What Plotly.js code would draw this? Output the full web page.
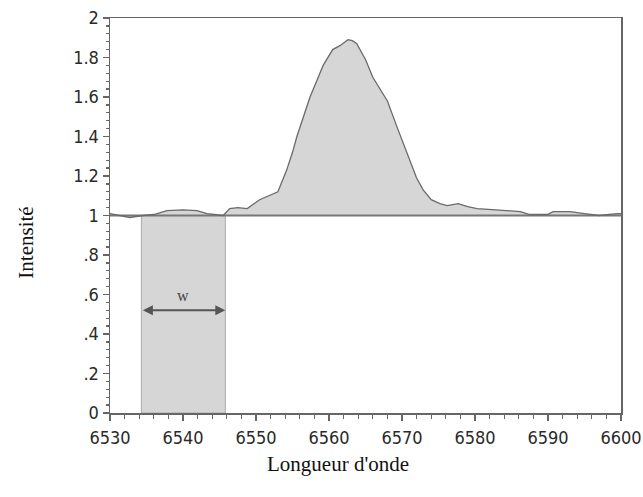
<!DOCTYPE html>
<html>
<head>
<meta charset="utf-8">
<script src="https://cdn.plot.ly/plotly-3.0.1.min.js"></script>
<style>html,body{margin:0;padding:0;background:#fff;}#chart{width:643px;height:497px;}</style>
</head>
<body>
<div id="chart"></div>
<script>
// Spectrum (wavelength in Å, normalised intensity)
const wavelength = [6530, 6531.5, 6532.7, 6534.5, 6536, 6537.8, 6540, 6541.9, 6543.3, 6545.5, 6546.4, 6547.5, 6548.8, 6550.5, 6551.5, 6553, 6554.2, 6555, 6555.6, 6556.5, 6557.4, 6558.3, 6559.2, 6560.5, 6561.5, 6562.6, 6563.2, 6563.8, 6565, 6566, 6567, 6568, 6569.3, 6570.2, 6571.1, 6572, 6572.9, 6574, 6575.2, 6576.2, 6577.7, 6579, 6580.3, 6582, 6584.4, 6586.2, 6587.5, 6589.9, 6590.7, 6593, 6595, 6597, 6599.5, 6600];
const intensity  = [1.01, 1.0, 0.99, 1.0, 1.005, 1.025, 1.028, 1.025, 1.01, 1.0, 1.035, 1.04, 1.035, 1.08, 1.095, 1.12, 1.23, 1.32, 1.40, 1.5, 1.6, 1.68, 1.76, 1.84, 1.86, 1.89, 1.885, 1.87, 1.79, 1.70, 1.64, 1.58, 1.45, 1.36, 1.27, 1.19, 1.13, 1.08, 1.06, 1.05, 1.06, 1.045, 1.035, 1.03, 1.025, 1.02, 1.005, 1.005, 1.02, 1.02, 1.01, 1.0, 1.01, 1.01];
// Continuum level
const continuumX = [6530, 6600];
const continuumY = [1, 1];
// Equivalent width rectangle
const widthX = [6534.3, 6545.8];
const widthY = [0, 1];
const widthArrowY = 0.52;
const widthLabel = "w";
// Axis ticks
const yTickVals = [0, 0.2, 0.4, 0.6, 0.8, 1, 1.2, 1.4, 1.6, 1.8, 2];
const yTickText = ["0", ".2", ".4", ".6", ".8", "1", "1.2", "1.4", "1.6", "1.8", "2"];
const xTickVals = [6530, 6540, 6550, 6560, 6570, 6580, 6590, 6600];

const axisColor = '#666';
const tickFont = {family: '"DejaVu Sans Condensed", "Liberation Sans Narrow", sans-serif', size: 18, color: '#2a2a2a'};
const traces = [
  {x: continuumX, y: continuumY, mode: 'lines', line: {color: '#777', width: 2}, hoverinfo: 'skip', showlegend: false},
  {x: wavelength, y: intensity, mode: 'lines', fill: 'tonexty', fillcolor: '#d6d6d6',
   line: {color: '#6a6a6a', width: 1.3}, showlegend: false}
];

const layout = {
  width: 643, height: 497,
  margin: {l: 110, r: 22, t: 18, b: 84},
  paper_bgcolor: '#fff', plot_bgcolor: '#fff',
  font: {family: '"DejaVu Sans Condensed", sans-serif', color: '#222'},
  xaxis: {
    range: [6530, 6600], tickvals: xTickVals, ticks: 'outside', ticklen: 6, tickwidth: 1.3, tickcolor: axisColor,
    showline: true, linecolor: axisColor, linewidth: 1.5, mirror: true, showgrid: false, zeroline: false,
    tickfont: tickFont, ticklabelstandoff: 2,
    minor: {dtick: 2, tick0: 6530, ticks: 'outside', ticklen: 4, tickcolor: axisColor, showgrid: false}
  },
  yaxis: {
    range: [0, 2], tickvals: yTickVals, ticktext: yTickText, ticks: 'outside', ticklen: 6, tickwidth: 1.3, tickcolor: axisColor,
    showline: true, linecolor: axisColor, linewidth: 1.5, mirror: true, showgrid: false, zeroline: false,
    tickfont: tickFont,
    minor: {dtick: 0.04, tick0: 0, ticks: 'outside', ticklen: 3, tickcolor: axisColor, showgrid: false}
  },
  shapes: [
    {type: 'rect', xref: 'x', yref: 'y', x0: widthX[0], x1: widthX[1], y0: widthY[0], y1: widthY[1],
     fillcolor: '#d6d6d6', line: {color: '#aaa', width: 1}, layer: 'below'}
  ],
  annotations: [
    {xref: 'x', yref: 'y', x: widthX[1], y: widthArrowY, ax: widthX[0], ay: widthArrowY, axref: 'x', ayref: 'y',
     showarrow: true, arrowhead: 2, startarrowhead: 2, arrowside: 'end+start', arrowsize: 1, arrowwidth: 2,
     arrowcolor: '#555', text: ''},
    {xref: 'x', yref: 'y', x: (widthX[0] + widthX[1]) / 2, y: widthArrowY + 0.075, text: widthLabel, showarrow: false,
     font: {family: '"Liberation Serif", "DejaVu Serif", serif', size: 16, color: '#444'}},
    {xref: 'paper', yref: 'paper', x: (338 - 110) / 511, y: -0.13, yanchor: 'middle', xanchor: 'center', showarrow: false,
     text: "Longueur d'onde", font: {family: '"Liberation Serif", "Times New Roman", serif', size: 21, color: '#111'}},
    {xref: 'paper', yref: 'paper', x: -0.165, y: (413 - 243) / 395, xanchor: 'center', yanchor: 'middle', textangle: -90, showarrow: false,
     text: "Intensité", font: {family: '"Liberation Serif", "Times New Roman", serif', size: 21, color: '#111'}}
  ]
};

Plotly.newPlot('chart', traces, layout, {displayModeBar: false, staticPlot: true});
</script>
</body>
</html>
